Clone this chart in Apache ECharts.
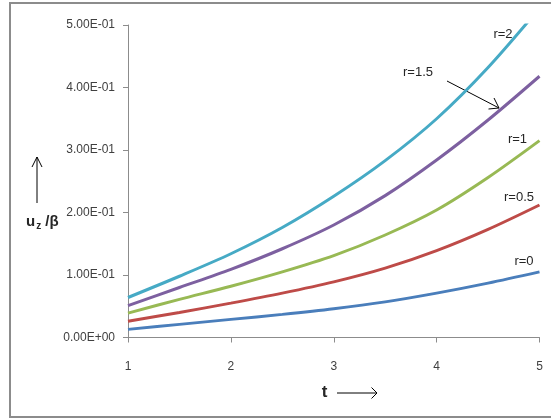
<!DOCTYPE html>
<html>
<head>
<meta charset="utf-8">
<script src="https://cdn.jsdelivr.net/npm/echarts@6/dist/echarts.min.js"></script>
<style>
html,body{margin:0;padding:0;background:#fff;}
#chart{width:551px;height:419px;}
</style>
</head>
<body>
<div id="chart"></div>
<script>
// Data
const tValues = [1, 1.5, 2, 2.5, 3, 3.5, 4, 4.5, 5];
const seriesNames = ["r=0", "r=0.5", "r=1", "r=1.5", "r=2"];
const r0   = [0.013, 0.021, 0.029, 0.037, 0.046, 0.057, 0.071, 0.087, 0.105];
const r05  = [0.026, 0.040, 0.055, 0.071, 0.089, 0.111, 0.139, 0.173, 0.212];
const r1   = [0.039, 0.061, 0.082, 0.105, 0.131, 0.164, 0.204, 0.256, 0.315];
const r15  = [0.051, 0.080, 0.109, 0.142, 0.180, 0.227, 0.284, 0.348, 0.418];
const r2   = [0.064, 0.098, 0.134, 0.176, 0.226, 0.283, 0.350, 0.432, 0.527];
const xTickLabels = ["1", "2", "3", "4", "5"];
const yTickLabels = ["0.00E+00", "1.00E-01", "2.00E-01", "3.00E-01", "4.00E-01", "5.00E-01"];

const colors = ["#4a7ebb", "#be4b48", "#98b954", "#7d60a0", "#46aac5"];
const allSeries = [r0, r05, r1, r15, r2];

const chart = echarts.init(document.getElementById('chart'), null, {renderer: 'canvas'});
const font = "'Liberation Sans', Arial, sans-serif";

const option = {
  animation: false,
  backgroundColor: '#ffffff',
  grid: {left: 128, right: 11.5, top: 25, bottom: 81.5, containLabel: false, outerBoundsMode: 'none'},
  xAxis: {
    type: 'value', min: 1, max: 5, interval: 1,
    axisLine: {show: true, lineStyle: {color: '#8c8c8c', width: 1}},
    axisTick: {show: true, length: 5, lineStyle: {color: '#8c8c8c'}},
    splitLine: {show: false},
    axisLabel: {
      margin: 23, fontSize: 12, color: '#404040', fontFamily: font,
      formatter: function (v) { return xTickLabels[Math.round(v - 1)]; }
    }
  },
  yAxis: {
    type: 'value', min: 0, max: 0.5, interval: 0.1,
    axisLine: {show: true, lineStyle: {color: '#8c8c8c', width: 1}},
    axisTick: {show: true, length: 5, lineStyle: {color: '#8c8c8c'}},
    splitLine: {show: false},
    axisLabel: {
      margin: 13, fontSize: 12, color: '#404040', fontFamily: font,
      formatter: function (v) { return yTickLabels[Math.round(v * 10)]; }
    }
  },
  series: allSeries.map(function (vals, i) {
    return {
      name: seriesNames[i], type: 'line', smooth: 0.3, showSymbol: false, clip: true,
      lineStyle: {color: colors[i], width: 3},
      data: tValues.map(function (t, j) { return [t, vals[j]]; })
    };
  }),
  graphic: [
    // outer frame
    {type: 'rect', shape: {x: 10, y: 3, width: 560, height: 414}, style: {fill: 'none', stroke: '#8c8c8c', lineWidth: 2}, silent: true},
    // series annotations
    {type: 'text', x: 503, y: 34, style: {text: 'r=2', font: '13px ' + font, fill: '#262626', align: 'center', verticalAlign: 'middle'}},
    {type: 'text', x: 418, y: 72.5, style: {text: 'r=1.5', font: '13px ' + font, fill: '#262626', align: 'center', verticalAlign: 'middle'}},
    {type: 'text', x: 517.5, y: 139, style: {text: 'r=1', font: '13px ' + font, fill: '#262626', align: 'center', verticalAlign: 'middle'}},
    {type: 'text', x: 519, y: 197, style: {text: 'r=0.5', font: '13px ' + font, fill: '#262626', align: 'center', verticalAlign: 'middle'}},
    {type: 'text', x: 524, y: 261, style: {text: 'r=0', font: '13px ' + font, fill: '#262626', align: 'center', verticalAlign: 'middle'}},
    // r=1.5 arrow
    {type: 'polyline', shape: {points: [[447, 81], [499, 108]]}, style: {stroke: '#000', lineWidth: 1, fill: 'none'}},
    {type: 'polyline', shape: {points: [[494, 98], [499, 108], [488.5, 109]]}, style: {stroke: '#000', lineWidth: 1, fill: 'none'}},
    // y title
    {type: 'text', x: 26, y: 222, style: {
      text: '{a|u}{b|z}{a| /β}', verticalAlign: 'middle', align: 'left',
      rich: {
        a: {font: 'bold 15px ' + font, fill: '#262626'},
        b: {font: 'bold 10px ' + font, fill: '#262626', padding: [8, 0, 0, 1]}
      }
    }},
    {type: 'polyline', shape: {points: [[37, 203], [37, 157]]}, style: {stroke: '#000', lineWidth: 1, fill: 'none'}},
    {type: 'polyline', shape: {points: [[32, 167], [37, 157], [42, 167]]}, style: {stroke: '#000', lineWidth: 1, fill: 'none'}},
    // x title
    {type: 'text', x: 324.5, y: 392, style: {text: 't', font: 'bold 17px ' + font, fill: '#262626', align: 'center', verticalAlign: 'middle'}},
    {type: 'polyline', shape: {points: [[337, 393], [377, 393]]}, style: {stroke: '#000', lineWidth: 1, fill: 'none'}},
    {type: 'polyline', shape: {points: [[371.5, 387.5], [377, 393], [371.5, 398.5]]}, style: {stroke: '#000', lineWidth: 1, fill: 'none'}}
  ]
};
chart.setOption(option);
</script>
</body>
</html>
